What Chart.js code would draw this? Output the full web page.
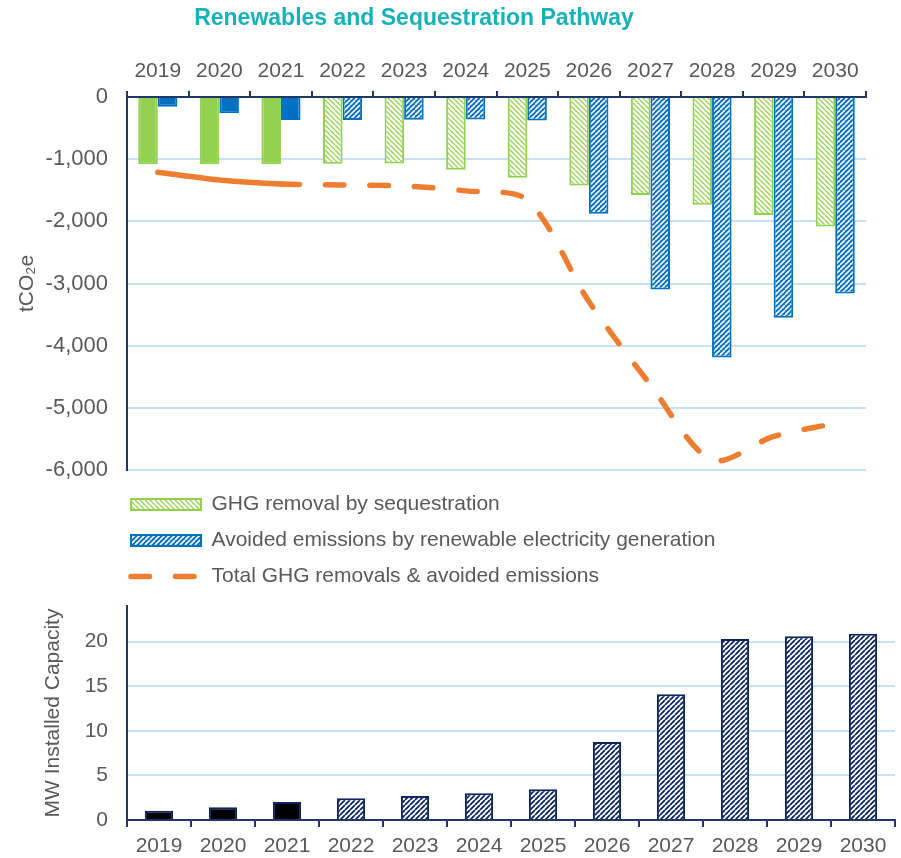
<!DOCTYPE html>
<html>
<head>
<meta charset="utf-8">
<title>Renewables and Sequestration Pathway</title>
<script src="https://cdn.jsdelivr.net/npm/chart.js@4.4.1/dist/chart.umd.min.js"></script>
<style>
  body { margin: 0; background: #fff; }
  #wrap { position: relative; width: 901px; height: 858px; }
  #title {
    position: absolute; left: 0; top: 4px; width: 828px;
    text-align: center; line-height: 27px;
    font: bold 23px 'Liberation Sans', Arial, sans-serif; color: #17B2B8;
  }
  #ghgChart { position: absolute; left: 0; top: 0; }
  #mwChart { position: absolute; left: 0; top: 590px; }
</style>
</head>
<body>
<div id="wrap">
  <canvas id="ghgChart" width="901" height="590"></canvas>
  <div id="title">Renewables and Sequestration Pathway</div>
  <canvas id="mwChart" width="901" height="268"></canvas>
</div>
<script>
const years = ['2019', '2020', '2021', '2022', '2023', '2024', '2025', '2026', '2027', '2028', '2029', '2030'];
const sequestration = [-1080, -1080, -1080, -1075, -1070, -1170, -1300, -1425, -1575, -1735, -1900, -2085];
const avoidedEmissions = [-155, -262, -370, -370, -365, -360, -380, -1880, -3095, -4190, -3550, -3160];
const totalRemovals = [-1210, -1335, -1400, -1415, -1430, -1510, -1660, -3290, -4630, -5840, -5460, -5250];
const installedMW = [1.05, 1.42, 2.02, 2.43, 2.7, 3.0, 3.45, 8.76, 14.1, 20.3, 20.6, 20.9];

const lastActualYear = 2021;

const green = '#92D050';
const blue = '#0070C0';
const orange = '#ED7D31';
const navy = '#1F3864';
const darkBlue = '#0B2460';
const gridBlue = '#C6E0F5';
const gray = '#595959';

Chart.defaults.font.family = "'Liberation Sans', Arial, sans-serif";
Chart.defaults.font.size = 21;
Chart.defaults.color = gray;

// diagonal hatch fill, dir '/' or '\'
function hatch(bg, fg, size, lw, dir) {
    const c = document.createElement('canvas');
    c.width = c.height = size;
    const g = c.getContext('2d');
    g.fillStyle = bg;
    g.fillRect(0, 0, size, size);
    g.strokeStyle = fg;
    g.lineWidth = lw;
    g.beginPath();
    for (let k = -1; k <= 1; k++) {
        if (dir === '/') {
            g.moveTo(k * size, size);
            g.lineTo(k * size + size, 0);
        } else {
            g.moveTo(k * size, 0);
            g.lineTo(k * size + size, size);
        }
    }
    g.stroke();
    return g.createPattern(c, 'repeat');
}

const greenHatch = hatch('#ffffff', green, 5, 1.3, '\\');
const blueHatch = hatch(blue, '#ffffff', 5, 1.6, '/');
const navyHatch = hatch('#ffffff', darkBlue, 5, 1.8, '/');

const isActual = ctx => Number(years[ctx.dataIndex]) <= lastActualYear;

const legendStyles = [
    { pointStyle: 'rect', fillStyle: greenHatch, strokeStyle: green, lineWidth: 2 },
    { pointStyle: 'rect', fillStyle: blueHatch, strokeStyle: blue, lineWidth: 2 },
    { pointStyle: 'line', fillStyle: orange, strokeStyle: orange, lineWidth: 5.5, lineDash: [18.5, 26], lineCap: 'round' }
];

// the legend sits a little left of / below where chart.js puts it
const nudgeLegend = {
    id: 'nudgeLegend',
    afterLayout(chart) {
        if (chart.legend) {
            chart.legend.left -= 11;
            chart.legend.top += 9;
        }
    }
};

new Chart(document.getElementById('ghgChart'), {
    type: 'bar',
    data: {
        labels: years,
        datasets: [
            {
                label: 'GHG removal by sequestration',
                data: sequestration,
                backgroundColor: ctx => isActual(ctx) ? green : greenHatch,
                borderColor: green,
                borderWidth: 2,
                categoryPercentage: 0.635,
                barPercentage: 1
            },
            {
                label: 'Avoided emissions by renewable electricity generation',
                data: avoidedEmissions,
                backgroundColor: ctx => isActual(ctx) ? blue : blueHatch,
                borderColor: blue,
                borderWidth: 2,
                categoryPercentage: 0.635,
                barPercentage: 1
            },
            {
                type: 'line',
                label: 'Total GHG removals & avoided emissions',
                data: totalRemovals,
                borderColor: orange,
                backgroundColor: orange,
                borderWidth: 5.5,
                borderCapStyle: 'round',
                pointRadius: 0,
                tension: 0.3,
                fill: false,
                segment: {
                    // actual years solid, projection dashed
                    borderDash: ctx => ctx.p0DataIndex < 2 ? [] : [18.5, 26]
                }
            }
        ]
    },
    options: {
        responsive: false,
        animation: false,
        layout: { padding: { left: 0, right: 35, top: 0, bottom: 2 } },
        plugins: {
            tooltip: { enabled: false },
            legend: {
                position: 'bottom',
                align: 'start',
                fullSize: false,
                labels: {
                    usePointStyle: true,
                    pointStyleWidth: 70,
                    boxHeight: 11,
                    padding: 15,
                    color: gray,
                    font: { size: 21 },
                    generateLabels: chart => chart.data.datasets.map((ds, i) => Object.assign({
                        text: ds.label,
                        datasetIndex: i,
                        fontColor: gray,
                        hidden: false
                    }, legendStyles[i]))
                }
            }
        },
        scales: {
            x: {
                position: 'top',
                grid: { drawOnChartArea: false, drawTicks: true, tickLength: 6, color: navy, lineWidth: 2 },
                border: { color: navy, width: 2 },
                ticks: { color: gray, padding: 7, maxRotation: 0, autoSkip: false },
                afterFit: s => { s.height = 97; }
            },
            y: {
                min: -6000,
                max: 0,
                ticks: {
                    stepSize: 1000,
                    color: gray,
                    padding: 19,
                    font: { size: 22 },
                    callback: v => v.toLocaleString('en-US')
                },
                grid: {
                    drawTicks: false,
                    color: c => c.tick && c.tick.value === 0 ? 'rgba(0,0,0,0)' : gridBlue,
                    lineWidth: 2
                },
                border: { color: navy, width: 2 },
                title: { display: true, text: 'tCO₂e', color: gray, font: { size: 21 }, padding: { top: 15, bottom: 0 } },
                afterFit: s => { s.width = 127; }
            }
        }
    },
    plugins: [nudgeLegend]
});

new Chart(document.getElementById('mwChart'), {
    type: 'bar',
    data: {
        labels: years,
        datasets: [
            {
                label: 'MW Installed Capacity',
                data: installedMW,
                backgroundColor: ctx => isActual(ctx) ? '#000000' : navyHatch,
                borderColor: darkBlue,
                borderWidth: 2,
                categoryPercentage: 0.44,
                barPercentage: 1
            }
        ]
    },
    options: {
        responsive: false,
        animation: false,
        layout: { padding: { left: 0, right: 6, top: 16, bottom: 0 } },
        plugins: {
            legend: { display: false },
            tooltip: { enabled: false }
        },
        scales: {
            x: {
                grid: { drawOnChartArea: false, drawTicks: true, tickLength: 7, color: navy, lineWidth: 2 },
                border: { color: navy, width: 2 },
                ticks: { color: gray, padding: 7, maxRotation: 0, autoSkip: false },
                afterFit: s => { s.height = 38; }
            },
            y: {
                min: 0,
                max: 24,
                ticks: { stepSize: 5, includeBounds: false, color: gray, padding: 19 },
                grid: {
                    drawTicks: false,
                    color: c => c.tick && c.tick.value === 0 ? 'rgba(0,0,0,0)' : gridBlue,
                    lineWidth: 2
                },
                border: { color: navy, width: 2 },
                title: { display: true, text: 'MW Installed Capacity', color: gray, padding: { top: 41, bottom: 0 } },
                afterFit: s => {
                    s.width = 127;
                    s.paddingTop = 0;
                    s.paddingBottom = 0;
                }
            }
        }
    }
});
</script>
</body>
</html>
